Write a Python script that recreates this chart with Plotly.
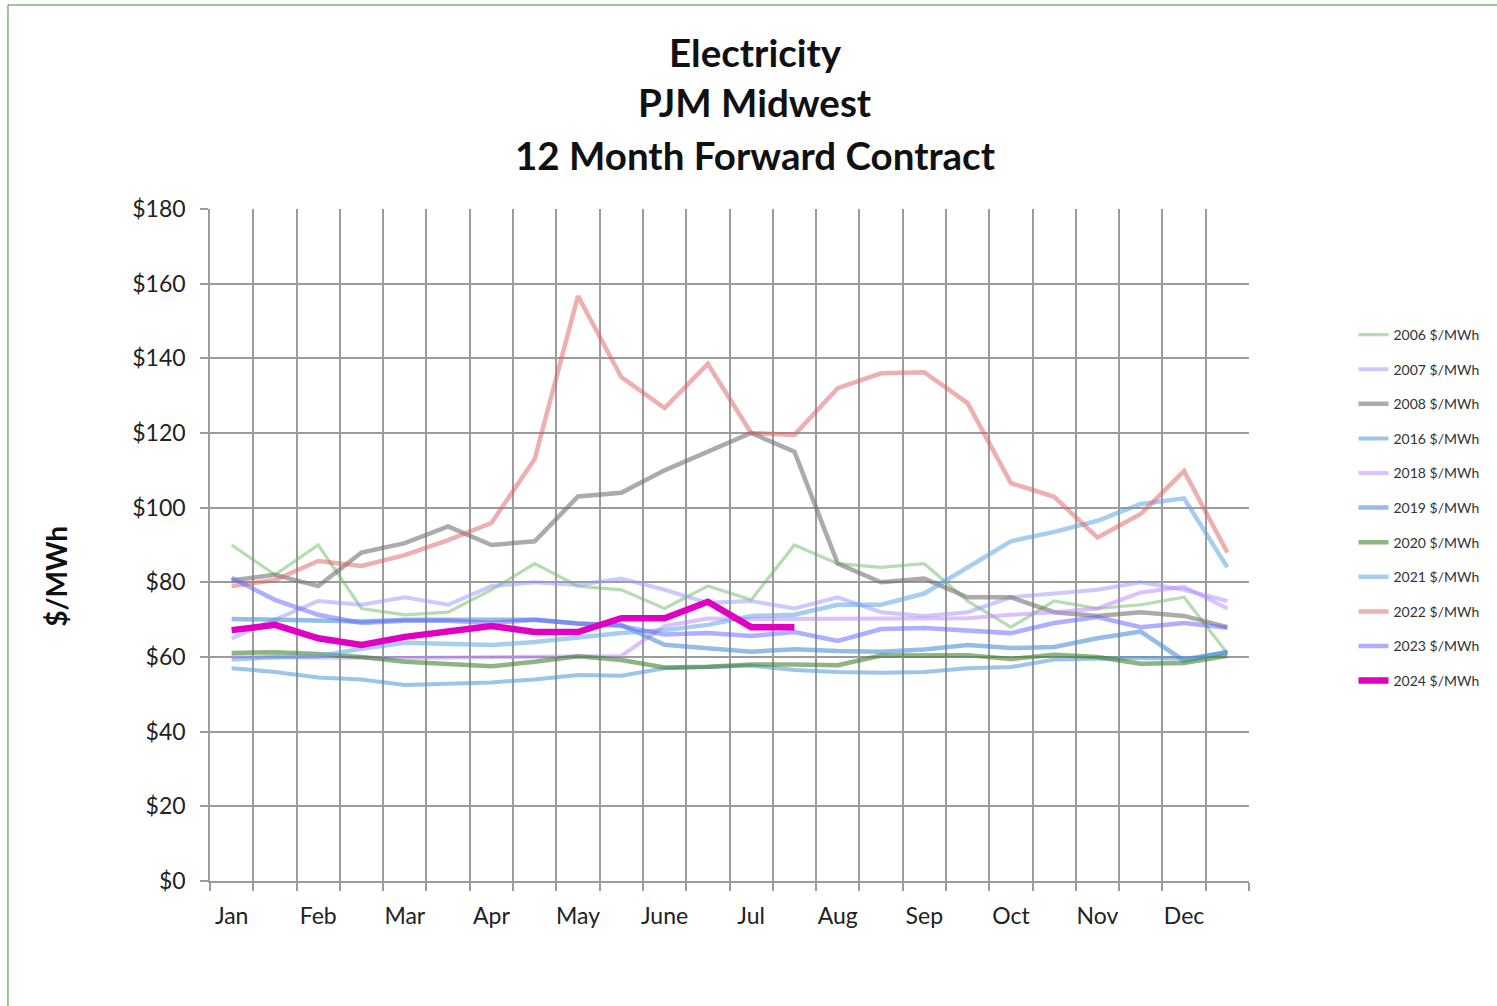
import plotly.graph_objects as go

# ---- data ----
months = ["Jan", "Feb", "Mar", "Apr", "May", "June", "Jul", "Aug", "Sep", "Oct", "Nov", "Dec"]
n_periods = 24  # two readings per month

y2006 = [90, 82, 90, 73, 71.3, 72, 78, 85, 79, 78, 73, 79, 75.3, 90, 85, 84, 85, 75, 68, 75, 73, 74, 76, 61]
y2007 = [65, 70, 75, 74, 76, 74, 79, 80, 79.3, 81, 78, 74.5, 75, 73, 76, 72, 71, 72, 76, 77, 78, 80, 78, 75]
y2008 = [80.5, 82, 79, 88, 90.5, 95, 90, 91, 103, 104, 110, 115, 120, 115, 85, 80, 81, 76, 76, 72, 71, 72, 71, 68]
y2016 = [57, 56, 54.5, 54, 52.5, 52.8, 53.2, 54, 55.2, 55, 57, 57.3, 57.7, 56.5, 56, 55.8, 56, 57, 57.3, 59.3, 59.6, 59.7, 59.5, 61.3]
y2018 = [60, 60, 59.8, 59.8, 59.7, 59.8, 60, 60.2, 60.3, 60.3, 68.3, 70.3, 70.2, 70.2, 70.2, 70.2, 70.4, 70.4, 71.3, 72, 73, 77.3, 78.8, 73]
y2019 = [70.2, 70, 70, 69.5, 70, 70, 70, 70, 69, 68.6, 63.3, 62.4, 61.4, 62.1, 61.6, 61.4, 62, 63.2, 62.4, 62.7, 65, 66.8, 59, 61.4]
y2020 = [61.1, 61.3, 60.8, 60, 58.7, 58.2, 57.5, 58.7, 60.2, 59.2, 57.2, 57.4, 58, 58, 57.8, 60.4, 60.5, 60.5, 59.5, 60.6, 60, 58.2, 58.4, 60.3]
y2021 = [59.3, 60, 60.2, 62.2, 63.8, 63.6, 63.2, 64, 65.3, 66.4, 67.2, 68.6, 71, 71.3, 74, 74, 77, 84, 91, 93.5, 96.5, 101, 102.5, 84]
y2022 = [79, 80.6, 85.7, 84.4, 87.3, 91.3, 95.9, 113, 156.7, 135, 126.7, 138.5, 120, 119.5, 132, 136, 136.3, 128, 106.6, 102.9, 92, 98.3, 109.8, 88]
y2023 = [81.2, 75.3, 71.3, 69.1, 69.7, 69.7, 69.1, 70, 69, 68.3, 66, 66.4, 65.6, 66.7, 64.3, 67.5, 67.8, 67.2, 66.4, 69.1, 70.7, 68, 69.1, 67.8]
y2024 = [67.2, 68.6, 65, 63.2, 65.4, 67, 68.3, 66.7, 66.7, 70.4, 70.4, 74.8, 68, 68]

y_ticks = [0, 20, 40, 60, 80, 100, 120, 140, 160, 180]
y_ticklabels = ["$" + str(v) for v in y_ticks]

series = [
    ("2006 $/MWh", y2006, "rgba(110,185,100,0.5)", 3.2),
    ("2007 $/MWh", y2007, "rgba(150,150,255,0.5)", 4),
    ("2008 $/MWh", y2008, "rgba(115,115,115,0.6)", 4.5),
    ("2016 $/MWh", y2016, "rgba(75,150,215,0.55)", 4),
    ("2018 $/MWh", y2018, "rgba(185,130,255,0.5)", 4),
    ("2019 $/MWh", y2019, "rgba(75,145,215,0.6)", 4.5),
    ("2020 $/MWh", y2020, "rgba(65,130,45,0.6)", 4.5),
    ("2021 $/MWh", y2021, "rgba(95,165,225,0.55)", 4.5),
    ("2022 $/MWh", y2022, "rgba(220,95,95,0.5)", 4.5),
    ("2023 $/MWh", y2023, "rgba(95,95,255,0.5)", 4.5),
    ("2024 $/MWh", y2024, "#e000c4", 6.5),
]

FONT = "Lato, 'Open Sans', sans-serif"
GRID = "#9c9c9c"

fig = go.Figure()
for name, vals, color, width in series:
    fig.add_trace(go.Scatter(
        x=list(range(len(vals))), y=vals, mode="lines", name=name,
        legendgroup=name,
        line=dict(color=color, width=width),
    ))

W, H = 1497, 1006
PL, PR, PT, PB = 210, 1254, 209, 881   # plot area in page pixels
L, T, R, B = PL, PT, W - PR, H - PB
pw, ph = PR - PL, PB - PT

def px(xpage):
    return (xpage - PL) / pw

def py(ypage):
    return (PB - ypage) / ph

fig.update_layout(
    width=W, height=H,
    margin=dict(l=L, r=R, t=T, b=B, pad=0),
    paper_bgcolor="white", plot_bgcolor="white",
    font=dict(family=FONT, color="#222222"),
    showlegend=True,
    legend=dict(
        x=px(1359), y=py(319), xanchor="left", yanchor="top",
        font=dict(size=14, color="#333333"),
        tracegroupgap=13.4, bgcolor="rgba(0,0,0,0)",
    ),
    xaxis=dict(
        range=[-0.5, n_periods - 0.5],
        tickmode="array",
        tickvals=[2 * i for i in range(len(months))],
        ticktext=months,
        ticks="", showgrid=False,
        tickfont=dict(size=23, color="#222222"),
        ticklabelstandoff=14,
        showline=True, linecolor=GRID, linewidth=1.5,
        zeroline=False,
        minor=dict(
            tickmode="array",
            tickvals=[i - 0.5 for i in range(n_periods + 1)],
            ticks="outside", ticklen=8, tickcolor=GRID, tickwidth=1.5,
            showgrid=True, gridcolor=GRID, gridwidth=1.5,
        ),
    ),
    yaxis=dict(
        range=[0, 180],
        tickmode="array", tickvals=y_ticks, ticktext=y_ticklabels,
        ticks="outside", ticklen=8, tickcolor=GRID, tickwidth=1.5,
        showgrid=True, gridcolor=GRID, gridwidth=1.5,
        showline=True, linecolor=GRID, linewidth=1.5,
        zeroline=False,
        tickfont=dict(size=23, color="#222222"),
        ticklabelstandoff=10,
    ),
)

titles = [("Electricity", 52), ("PJM Midwest", 102), ("12 Month Forward Contract", 155)]
for text, ypix in titles:
    fig.add_annotation(
        x=px(758), y=py(ypix), xref="paper", yref="paper",
        text="<b>" + text + "</b>", showarrow=False,
        font=dict(size=38.5, color="#111111", family=FONT),
        xanchor="center", yanchor="middle",
    )

fig.add_annotation(
    x=px(55), y=py(576), xref="paper", yref="paper",
    text="<b>$/MWh</b>", showarrow=False, textangle=-90,
    font=dict(size=28, color="#111111", family=FONT),
    xanchor="center", yanchor="middle",
)

# outer chart frame (green, cropped at right and bottom)
fig.add_shape(
    type="rect", xref="paper", yref="paper",
    x0=px(7), x1=px(1530), y0=py(1030), y1=py(5),
    line=dict(color="#3f8f2f", width=1), fillcolor="rgba(0,0,0,0)",
    layer="below",
)

fig.write_html(
    "out.html",
    config={"displayModeBar": False},
    post_script="document.body.style.margin='0';document.body.style.overflow='hidden';",
)
